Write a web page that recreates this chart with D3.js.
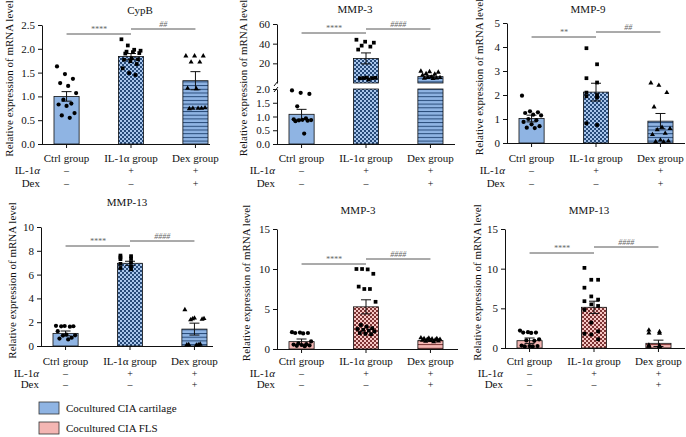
<!DOCTYPE html>
<html><head><meta charset="utf-8">
<script src="https://cdn.jsdelivr.net/npm/d3@7"></script>
<style>
body{margin:0;background:#fff}
text{font-family:"Liberation Serif","DejaVu Serif",serif;fill:#111}
</style>
</head><body>
<svg id="c" width="686" height="437"></svg>
<script>
// ---------------- DATA ----------------
const groups = ["Ctrl group", "IL-1α group", "Dex group"];
const titles = ["CypB", "MMP-3", "MMP-9", "MMP-13", "MMP-3", "MMP-13"];
const yLabel = "Relative expression of mRNA level";
const rowIL = ["–", "+", "+"];
const rowDex = ["–", "–", "+"];
const sigLeft = ["****", "****", "**", "****", "****", "****"];
const sigRight = ["##", "####", "##", "####", "####", "####"];
const legendLabels = ["Cocultured CIA cartilage", "Cocultured CIA FLS"];

const ticksCypB = [0, 0.5, 1.0, 1.5, 2.0, 2.5];
const ticksMMP3aLow = [0, 0.5, 1.0, 1.5, 2.0];
const ticksMMP3aHigh = [20, 40, 60];
const ticksMMP9 = [0, 1, 2, 3, 4, 5];
const ticksMMP13a = [0, 2, 4, 6, 8, 10];
const ticksFLS = [0, 5, 10, 15];

const cypbMean = [1.00, 1.84, 1.33];
const cypbSem = [0.10, 0.06, 0.19];
const cypbPts = [
  [1.63, 1.47, 1.37, 1.28, 1.22, 1.07, 0.93, 0.85, 0.83, 0.80, 0.65, 0.60, 0.55],
  [2.20, 2.07, 1.98, 1.96, 1.94, 1.93, 1.91, 1.90, 1.80, 1.78, 1.77, 1.74, 1.68, 1.59, 1.49, 1.45],
  [1.85, 1.85, 1.85, 1.72, 1.72, 1.17, 1.16, 0.76, 0.75, 0.75, 0.74, 0.75]
];

const mmp3aMean = [1.08, 25.0, 6.5];
const mmp3aSem = [0.18, 5.6, 1.0];
const mmp3aPts = [
  [1.95, 1.86, 1.82, 1.37, 0.93, 0.90, 0.88, 0.87, 0.86, 0.85, 0.83, 0.38],
  [44, 42, 41, 38, 37, 34, 5.5, 5.2, 5.0, 5.0, 4.8, 3.5],
  [12, 11.5, 11, 9.5, 9, 8, 6, 5.5, 5.5, 5, 4.8, 4.5]
];

const mmp9Mean = [1.02, 2.12, 0.91];
const mmp9Sem = [0.14, 0.37, 0.32];
const mmp9Pts = [
  [1.97, 1.32, 1.28, 1.25, 1.18, 1.15, 1.00, 0.95, 0.88, 0.78, 0.70, 0.64, 0.62],
  [3.95, 3.28, 2.70, 2.52, 2.10, 2.00, 1.95, 1.90, 0.82, 0.75],
  [2.50, 2.40, 2.10, 1.50, 0.65, 0.60, 0.55, 0.40, 0.35, 0.12, 0.08, 0.06, 0.05]
];

const mmp13aMean = [1.06, 6.95, 1.42];
const mmp13aSem = [0.20, 0.17, 0.50];
const mmp13aPts = [
  [1.70, 1.68, 1.66, 1.65, 1.62, 1.25, 0.95, 0.90, 0.88, 0.70, 0.62, 0.55],
  [7.60, 7.55, 7.45, 7.35, 7.30, 7.05, 6.90, 6.70, 6.55, 6.45],
  [3.05, 2.35, 2.30, 2.28, 2.25, 2.20, 0.15, 0.12, 0.10, 0.10, 0.08]
];

const mmp3bMean = [0.92, 5.27, 1.05];
const mmp3bSem = [0.33, 0.88, 0.10];
const mmp3bPts = [
  [2.10, 2.05, 2.00, 2.00, 1.95, 0.95, 0.70, 0.60, 0.55, 0.50, 0.45, 0.40, 0.35],
  [10.0, 10.0, 9.95, 9.40, 7.80, 7.50, 7.50, 5.90, 3.00, 2.80, 2.60, 2.50, 2.40, 2.30, 2.20, 2.00, 1.90, 1.85],
  [1.40, 1.35, 1.30, 1.30, 1.25, 1.20, 1.20, 1.15, 1.10, 1.05, 1.00, 0.95, 0.90]
];

const mmp13bMean = [0.92, 5.13, 0.59];
const mmp13bSem = [0.34, 0.77, 0.40];
const mmp13bPts = [
  [2.20, 2.00, 1.95, 1.95, 1.90, 1.10, 0.95, 0.90, 0.30, 0.25, 0.25, 0.20, 0.20],
  [10.1, 8.6, 8.6, 7.6, 6.5, 6.1, 5.9, 5.5, 5.3, 4.8, 3.2, 2.1, 1.8, 1.7, 1.1],
  [2.25, 2.05, 1.90, 1.85, 0.35, 0.30, 0.25, 0.20, 0.20, 0.15]
];

// ---------------- STYLE / LAYOUT ----------------
const palettes = {
  blue: {fill: "#8fb4e3", dark: "#274a78", light: "#a9c6ec"},
  pink: {fill: "#f4b6b3", dark: "#7d3434", light: "#f7c8c5"}
};

const svg = d3.select("#c");
const defs = svg.append("defs");
Object.entries(palettes).forEach(([k, p]) => {
  const ch = defs.append("pattern").attr("id", "check-" + k)
    .attr("patternUnits", "userSpaceOnUse").attr("width", 4).attr("height", 4);
  ch.append("rect").attr("width", 4).attr("height", 4).attr("fill", p.dark);
  ch.append("rect").attr("x", 0).attr("y", 0).attr("width", 2).attr("height", 2).attr("fill", p.light);
  ch.append("rect").attr("x", 2).attr("y", 2).attr("width", 2).attr("height", 2).attr("fill", p.light);
  const st = defs.append("pattern").attr("id", "stripe-" + k)
    .attr("patternUnits", "userSpaceOnUse").attr("width", 4).attr("height", 3.7);
  st.append("rect").attr("width", 4).attr("height", 3.7).attr("fill", p.fill);
  st.append("rect").attr("width", 4).attr("height", 1).attr("fill", p.dark);
});

const panels = [
  {mean: cypbMean, sem: cypbSem, pts: cypbPts, pal: "blue", x0: 42, xEnd: 210, yB: 144, yT: 25, dom: [0, 2.5], ticks: ticksCypB, fmt: ".1f",
   titleX: 140, titleY: 14, labX: 9, rowY: [162, 174, 187], sigY: [34, 29]},
  {mean: mmp3aMean, sem: mmp3aSem, pts: mmp3aPts, pal: "blue", x0: 277, xEnd: 455, broken: true,
   titleX: 355, titleY: 13, labX: 243, rowY: [162, 174, 187], sigY: [33, 29]},
  {mean: mmp9Mean, sem: mmp9Sem, pts: mmp9Pts, pal: "blue", x0: 507, xEnd: 685, yB: 143, yT: 23, dom: [0, 5], ticks: ticksMMP9, fmt: "d",
   titleX: 588, titleY: 13, labX: 479, rowY: [162, 174, 187], sigY: [37, 32]},
  {mean: mmp13aMean, sem: mmp13aSem, pts: mmp13aPts, pal: "blue", x0: 41, xEnd: 213, yB: 346, yT: 227, dom: [0, 10], ticks: ticksMMP13a, fmt: "d",
   titleX: 127, titleY: 206, labX: 12, rowY: [365, 377, 388], sigY: [246, 241]},
  {mean: mmp3bMean, sem: mmp3bSem, pts: mmp3bPts, pal: "pink", x0: 277, xEnd: 458, yB: 349, yT: 229, dom: [0, 15], ticks: ticksFLS, fmt: "d",
   titleX: 358, titleY: 214, labX: 246, rowY: [365, 377, 388], sigY: [264, 259]},
  {mean: mmp13bMean, sem: mmp13bSem, pts: mmp13bPts, pal: "pink", x0: 505, xEnd: 685, yB: 348, yT: 229, dom: [0, 15], ticks: ticksFLS, fmt: "d",
   titleX: 589, titleY: 214, labX: 477, rowY: [365, 377, 388], sigY: [253, 247]}
];

const FS = 11;
const fills = k => [palettes[k].fill, `url(#check-${k})`, `url(#stripe-${k})`];
const symbols = [d3.symbolCircle, d3.symbolSquare, d3.symbolTriangle];
const symSize = [14, 14, 11];

panels.forEach((p, pi) => {
  const g = svg.append("g");
  const x = d3.scaleBand().domain(groups).range([p.x0, p.x0 + 178]).paddingInner(0.61).paddingOuter(0.186);
  const bw = x.bandwidth();
  const cx = d => x(d) + bw / 2;

  let yOf, yBottom;
  if (p.broken) {
    const yLow = d3.scaleLinear().domain([0, 2]).range([144, 89]);
    const yHigh = d3.scaleLinear().domain([0, 60]).range([83, 24]);
    yOf = v => v > 2 ? yHigh(v) : yLow(v);
    yBottom = 144;
    g.append("g").attr("transform", `translate(${p.x0},0)`)
      .call(d3.axisLeft(yLow).tickValues(ticksMMP3aLow).tickFormat(d3.format(".1f")).tickSize(4).tickSizeOuter(0));
    g.append("g").attr("transform", `translate(${p.x0},0)`)
      .call(d3.axisLeft(yHigh).tickValues(ticksMMP3aHigh).tickFormat(d3.format("d")).tickSize(4).tickSizeOuter(0));
    g.append("line").attr("x1", p.x0 - 3).attr("x2", p.x0 + 1).attr("y1", 86).attr("y2", 81).attr("stroke", "#111");
    g.append("line").attr("x1", p.x0 - 3).attr("x2", p.x0 + 1).attr("y1", 92).attr("y2", 87).attr("stroke", "#111");
    p.mean.forEach((m, i) => {
      const f = fills(p.pal)[i];
      if (m <= 2) {
        g.append("rect").attr("x", x(groups[i])).attr("width", bw).attr("y", yLow(m)).attr("height", yLow(0) - yLow(m))
          .attr("fill", f).attr("stroke", "#111").attr("stroke-width", 0.8);
      } else {
        g.append("rect").attr("x", x(groups[i])).attr("width", bw).attr("y", yLow(2)).attr("height", yLow(0) - yLow(2))
          .attr("fill", f).attr("stroke", "#111").attr("stroke-width", 0.8);
        g.append("rect").attr("x", x(groups[i])).attr("width", bw).attr("y", yHigh(m)).attr("height", yHigh(0) - yHigh(m))
          .attr("fill", f).attr("stroke", "#111").attr("stroke-width", 0.8);
      }
    });
  } else {
    const y = d3.scaleLinear().domain(p.dom).range([p.yB, p.yT]);
    yOf = y;
    yBottom = p.yB;
    g.append("g").attr("transform", `translate(${p.x0},0)`)
      .call(d3.axisLeft(y).tickValues(p.ticks).tickFormat(d3.format(p.fmt)).tickSize(4).tickSizeOuter(0));
    p.mean.forEach((m, i) => {
      g.append("rect").attr("x", x(groups[i])).attr("width", bw).attr("y", y(m)).attr("height", y(0) - y(m))
        .attr("fill", fills(p.pal)[i]).attr("stroke", "#111").attr("stroke-width", 0.8);
    });
  }
  g.selectAll(".tick text").attr("font-size", FS).attr("font-family", '"Liberation Serif",serif').attr("fill", "#111");
  g.selectAll(".domain, .tick line").attr("stroke", "#111");

  g.append("line").attr("x1", p.x0).attr("x2", p.xEnd).attr("y1", yBottom + 0.5).attr("y2", yBottom + 0.5).attr("stroke", "#111");
  groups.forEach(d => g.append("line").attr("x1", cx(d)).attr("x2", cx(d)).attr("y1", yBottom).attr("y2", yBottom + 4).attr("stroke", "#111"));

  p.mean.forEach((m, i) => {
    const c = cx(groups[i]);
    const hi = yOf(m + p.sem[i]), lo = yOf(Math.max(0, m - p.sem[i]));
    g.append("line").attr("x1", c).attr("x2", c).attr("y1", hi).attr("y2", lo).attr("stroke", "#111").attr("stroke-width", 1);
    [hi, lo].forEach(yy => g.append("line").attr("x1", c - 5).attr("x2", c + 5).attr("y1", yy).attr("y2", yy).attr("stroke", "#111").attr("stroke-width", 1));
  });

  p.pts.forEach((arr, i) => {
    const n = arr.length;
    const left = x(groups[i]) + 3, w = bw - 6;
    arr.forEach((v, j) => {
      const frac = n > 1 ? ((j * 5) % n) / (n - 1) : 0.5;
      g.append("path").attr("d", d3.symbol(symbols[i], symSize[i])())
        .attr("transform", `translate(${left + frac * w},${yOf(v)})`).attr("fill", "#000");
    });
  });

  groups.forEach((d, i) => {
    g.append("text").attr("x", cx(d)).attr("y", p.rowY[0]).attr("text-anchor", "middle").attr("font-size", FS).text(d);
    g.append("text").attr("x", cx(d)).attr("y", p.rowY[1]).attr("text-anchor", "middle").attr("font-size", 10).text(rowIL[i]);
    g.append("text").attr("x", cx(d)).attr("y", p.rowY[2]).attr("text-anchor", "middle").attr("font-size", 10).text(rowDex[i]);
  });
  const il = g.append("text").attr("x", p.x0 - 2).attr("y", p.rowY[1]).attr("text-anchor", "end").attr("font-size", FS);
  il.append("tspan").text("IL-1");
  il.append("tspan").attr("font-style", "italic").text("α");
  g.append("text").attr("x", p.x0 - 2).attr("y", p.rowY[2]).attr("text-anchor", "end").attr("font-size", FS).text("Dex");

  g.append("text").attr("x", p.titleX).attr("y", p.titleY).attr("text-anchor", "middle").attr("font-size", FS).text(titles[pi]);

  const yMid = (p.broken ? (24 + 144) / 2 : (p.yT + p.yB) / 2) - 6;
  g.append("text").attr("transform", `translate(${p.labX},${yMid}) rotate(-90)`)
    .attr("text-anchor", "middle").attr("dominant-baseline", "central").attr("font-size", FS).text(yLabel);

  const c0 = cx(groups[0]), c1 = cx(groups[1]), c2 = cx(groups[2]);
  [[c0, c1, p.sigY[0], sigLeft[pi]], [c1, c2, p.sigY[1], sigRight[pi]]].forEach(([a, b, yy, lab]) => {
    g.append("line").attr("x1", a).attr("x2", b).attr("y1", yy).attr("y2", yy).attr("stroke", "#444").attr("stroke-width", 0.9);
    g.append("text").attr("x", (a + b) / 2).attr("y", yy - 2.5).attr("text-anchor", "middle")
      .attr("font-size", 8).attr("font-style", "italic").style("fill", "#666").text(lab);
  });
});

// legend
const lg = svg.append("g");
const legY = d3.scalePoint().domain(legendLabels).range([408, 428]);
const legCols = [palettes.blue.fill, palettes.pink.fill];
legendLabels.forEach((l, i) => {
  lg.append("rect").attr("x", 39).attr("y", legY(l) - 6).attr("width", 20).attr("height", 12)
    .attr("fill", legCols[i]).attr("stroke", "#333").attr("stroke-width", 0.8);
  lg.append("text").attr("x", 66).attr("y", legY(l) + 3.5).attr("font-size", FS).text(l);
});
</script>
</body></html>
